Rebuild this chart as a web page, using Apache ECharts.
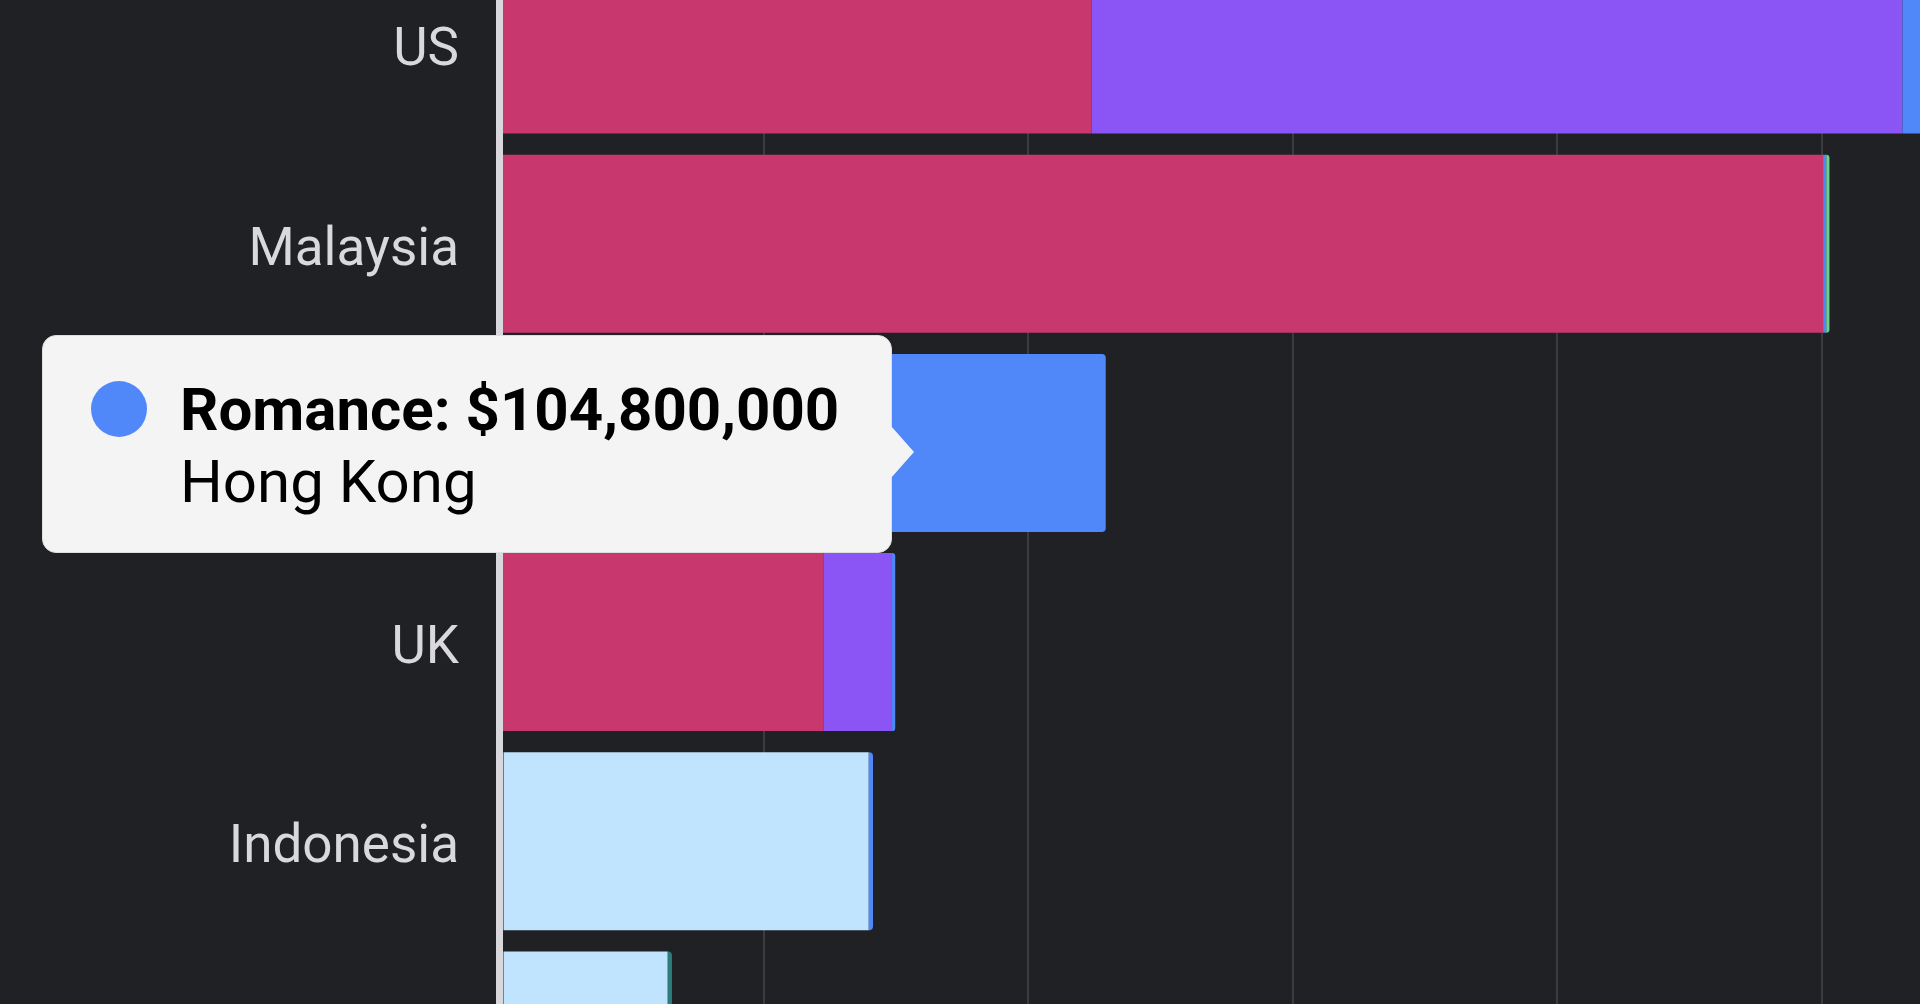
<!DOCTYPE html>
<html>
<head>
<meta charset="utf-8">
<title>Box office by genre</title>
<script src="https://cdn.jsdelivr.net/npm/echarts@6/dist/echarts.min.js"></script>
<style>
  html, body { margin: 0; padding: 0; background: #202124; }
  #chart { width: 1920px; height: 1004px; }
</style>
</head>
<body>
<div id="chart"></div>
<script>
// countries, sorted by total gross
var countries = ['US', 'Malaysia', 'Hong Kong', 'UK', 'Indonesia', 'Singapore'];

// gross per genre, millions of USD
var drama     = [112, 250.3, 9.9, 61.4, 0.9, 0];
var action    = [153.3, 0, 0, 12.9, 0, 0.9];
var horror    = [0, 0, 0, 0, 69, 31];
var romance   = [12, 0.6, 104.8, 0.6, 0.8, 0];
var comedy    = [0, 0.6, 0, 0, 0, 0];
var animation = [0, 0, 0, 0, 0, 0.8];

var xTicks = [0, 50, 100, 150, 200, 250, 300];

var genres = [
  { name: 'Drama', data: drama, color: '#c8386f' },
  { name: 'Action', data: action, color: '#8b55f6' },
  { name: 'Horror', data: horror, color: '#c0e4fe' },
  { name: 'Romance', data: romance, color: '#5087f9' },
  { name: 'Comedy', data: comedy, color: '#6fcf8c' },
  { name: 'Animation', data: animation, color: '#2d7b7b' }
];

// which series is the outer end of each stacked bar
var lastIdx = countries.map(function (c, i) {
  var last = 0;
  genres.forEach(function (g, s) { if (g.data[i] > 0) last = s; });
  return last;
});

var series = genres.map(function (g, s) {
  return {
    name: g.name,
    type: 'bar',
    stack: 'total',
    barWidth: 178,
    itemStyle: { color: g.color },
    data: g.data.map(function (v, i) {
      return {
        value: v,
        itemStyle: { borderRadius: lastIdx[i] === s ? [0, 4, 4, 0] : 0 }
      };
    })
  };
});

function money(v) {
  return '$' + Math.round(v * 1e6).toLocaleString('en-US');
}

var chart = echarts.init(document.getElementById('chart'));
var option = {
  backgroundColor: '#202124',
  animation: false,
  textStyle: { fontFamily: 'Roboto' },
  grid: {
    left: 499, top: -55, width: 1587, height: 1195,
    containLabel: false,
    outerBoundsMode: 'none'
  },
  xAxis: {
    type: 'value',
    min: xTicks[0],
    max: xTicks[xTicks.length - 1],
    interval: xTicks[1] - xTicks[0],
    axisLine: { show: false },
    axisTick: { show: false },
    axisLabel: { color: '#9a9a9e', fontSize: 40, formatter: function (v) { return '$' + v + 'M'; } },
    splitLine: { lineStyle: { color: '#3b3c40', width: 2 } }
  },
  yAxis: {
    type: 'category',
    inverse: true,
    data: countries,
    offset: 3,
    z: 5,
    axisTick: { show: false },
    axisLine: { lineStyle: { color: '#d8d8dc', width: 7 } },
    axisLabel: {
      margin: 37,
      formatter: function (v) { return '{c|' + v + '}'; },
      rich: {
        c: { color: '#d9d9dc', fontSize: 53, fontFamily: 'Roboto', padding: [15, 0, 0, 0] }
      }
    }
  },
  tooltip: {
    trigger: 'item',
    alwaysShowContent: true,
    transitionDuration: 0,
    padding: 0,
    backgroundColor: '#f4f4f4',
    borderColor: '#dedede',
    borderWidth: 1,
    extraCssText: 'border-radius:14px;box-shadow:none;width:850px;height:218px;box-sizing:border-box;',
    position: function () { return [42, 335]; },
    formatter: function (p) {
      return '<div style="position:relative;width:848px;height:216px;font-family:Roboto;color:#000;">' +
        '<span style="position:absolute;left:48px;top:45px;width:56px;height:56px;border-radius:50%;background:' + p.color + ';"></span>' +
        '<div style="position:absolute;left:137px;top:38px;font-size:60px;line-height:72px;font-weight:700;white-space:nowrap;">' +
          p.seriesName + ': ' + money(p.value) + '</div>' +
        '<div style="position:absolute;left:137px;top:110px;font-size:60px;line-height:72px;white-space:nowrap;">' + p.name + '</div>' +
        '<div style="position:absolute;left:848px;top:90px;width:0;height:0;border-top:26px solid transparent;border-bottom:26px solid transparent;border-left:23px solid #f4f4f4;"></div>' +
        '</div>';
    }
  },
  series: series
};
chart.setOption(option);
chart.dispatchAction({ type: 'showTip', seriesIndex: 3, dataIndex: 2 });
</script>
</body>
</html>
